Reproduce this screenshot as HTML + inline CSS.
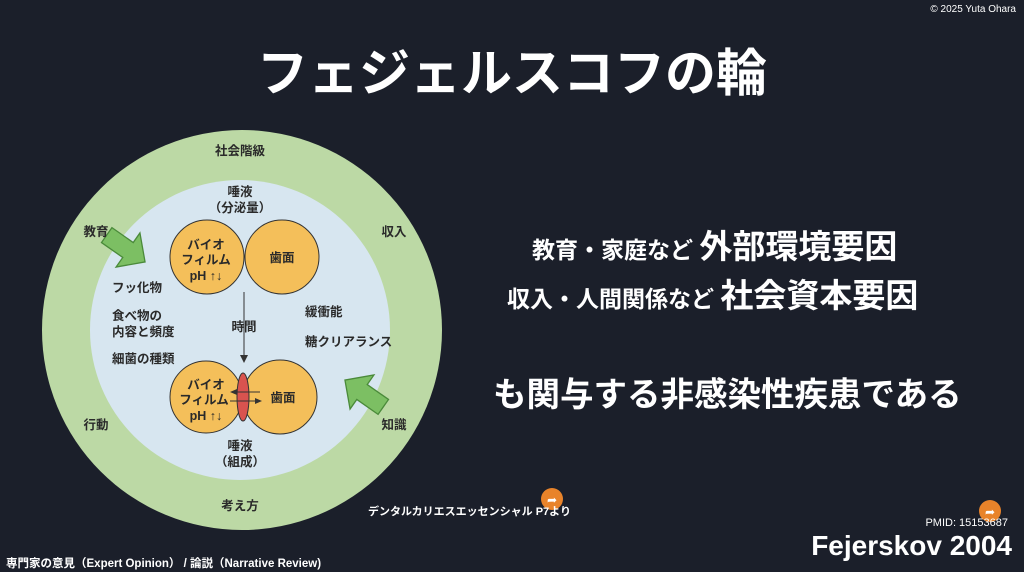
<!DOCTYPE html>
<html><head><meta charset="utf-8"><style>
body{margin:0;width:1024px;height:572px;background:#1b1f2a;overflow:hidden;position:relative;font-family:"Liberation Sans","Noto Sans CJK JP",sans-serif;color:#fff}
.a{position:absolute;white-space:nowrap;font-weight:bold}
</style></head><body>
<div class="a" style="right:8px;top:4px;font-size:10px;font-weight:normal">© 2025 Yuta Ohara</div>
<div class="a" style="left:257px;top:32px;font-size:51px">フェジェルスコフの輪</div>
<div class="a" style="left:532px;top:220px;font-size:23px">教育・家庭など <span style="font-size:33px">外部環境要因</span></div>
<div class="a" style="left:507px;top:269px;font-size:23px">収入・人間関係など <span style="font-size:33px">社会資本要因</span></div>
<div class="a" style="left:493px;top:367px;font-size:33.5px">も関与する非感染性疾患である</div>
<svg style="position:absolute;left:0;top:0" width="1024" height="572">
<circle cx="242" cy="330" r="200" fill="#bcd9a5"/>
<circle cx="240" cy="330" r="150" fill="#d7e6f0"/>
<g fill="#f4bf5a" stroke="#333" stroke-width="1">
<circle cx="207" cy="257" r="37"/><circle cx="282" cy="257" r="37"/>
<circle cx="206" cy="397" r="36"/><circle cx="280" cy="397" r="37"/>
</g>
<ellipse cx="243" cy="397" rx="6" ry="24" fill="#d9534f" stroke="#333"/>
<line x1="244" y1="292" x2="244" y2="355" stroke="#333"/>
<polygon points="240,355 248,355 244,363" fill="#333"/>
<line x1="232" y1="392" x2="260" y2="392" stroke="#333"/><polygon points="230,392 237,389 237,395" fill="#333"/>
<line x1="230" y1="401" x2="256" y2="401" stroke="#333"/><polygon points="262,401 255,398 255,404" fill="#333"/>
<polygon transform="translate(128,250) rotate(35) scale(1.3)" points="-20,-7 0,-7 0,-16 16,0 0,16 0,7 -20,7" fill="#7cbf63" stroke="#4a8a3a"/>
<polygon transform="translate(362,392) rotate(215) scale(1.3)" points="-20,-7 0,-7 0,-16 16,0 0,16 0,7 -20,7" fill="#7cbf63" stroke="#4a8a3a"/>
<g fill="#2a2a2a" font-size="12.5" font-weight="bold" font-family="Liberation Sans,Noto Sans CJK JP,sans-serif" text-anchor="middle">
<text x="240" y="155">社会階級</text><text x="96" y="236">教育</text><text x="394" y="236">収入</text>
<text x="96" y="429">行動</text><text x="394" y="429">知識</text><text x="240" y="510">考え方</text>
<text x="240" y="196">唾液</text><text x="240" y="212">（分泌量）</text>
<text x="206" y="249">バイオ</text><text x="206" y="264">フィルム</text><text x="206" y="280">pH ↑↓</text>
<text x="282" y="262">歯面</text>
<text x="244" y="331">時間</text>
<text x="206" y="389">バイオ</text><text x="204" y="404">フィルム</text><text x="206" y="420">pH ↑↓</text>
<text x="283" y="402">歯面</text>
<text x="240" y="450">唾液</text><text x="240" y="466">（組成）</text>
<g text-anchor="start"><text x="112" y="292">フッ化物</text><text x="112" y="320">食べ物の</text><text x="112" y="336">内容と頻度</text><text x="112" y="363">細菌の種類</text>
<text x="305" y="316">緩衝能</text><text x="305" y="346">糖クリアランス</text></g>
</g>
<circle cx="552" cy="499" r="11" fill="#e8832a"/><text x="552" y="504" fill="#fff" font-size="12" text-anchor="middle">➦</text>
<circle cx="990" cy="511" r="11" fill="#e8832a"/><text x="990" y="516" fill="#fff" font-size="12" text-anchor="middle">➦</text>
</svg>
<div class="a" style="left:368px;top:503px;font-size:11px">デンタルカリエスエッセンシャル P7より</div>
<div class="a" style="right:16px;top:517px;font-size:11px;font-weight:normal">PMID: 15153687</div>
<div class="a" style="right:12px;top:530px;font-size:28px">Fejerskov 2004</div>
<div class="a" style="left:6px;top:555px;font-size:11.5px">専門家の意見（Expert Opinion） / 論説（Narrative Review)</div>
</body></html>
